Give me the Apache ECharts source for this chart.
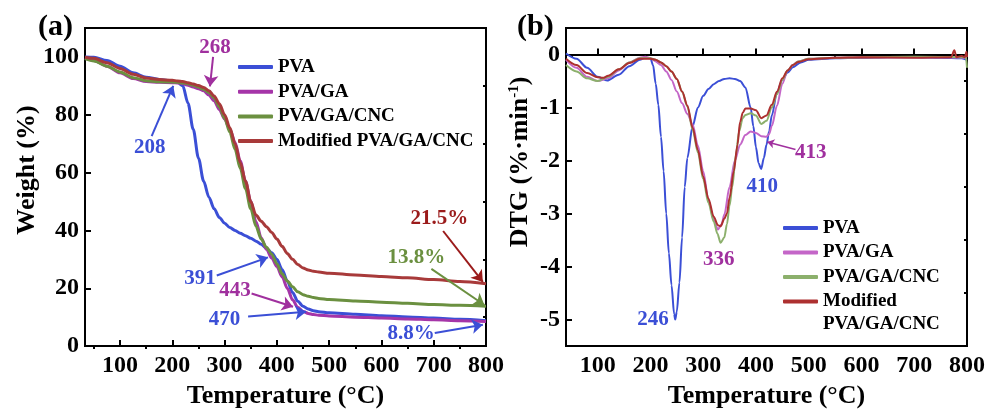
<!DOCTYPE html>
<html>
<head>
    <meta charset="utf-8">
    <title>TGA / DTG</title>
    <script src="https://cdn.jsdelivr.net/npm/echarts@6/dist/echarts.min.js"></script>
    <style>
        html, body { margin: 0; padding: 0; background: #fff; }
        #chart { width: 997px; height: 414px; }
    </style>
</head>
<body>
<div id="chart"></div>
<script type="text/javascript">
    // ---- data ----
    var names = ['PVA', 'PVA/GA', 'PVA/GA/CNC', 'Modified PVA/GA/CNC'];
    var colorsA = ['#3b4fd6', '#a535a8', '#6b9040', '#a83a3a'];
    var colorsB = ['#3b4fd6', '#c466c8', '#8cb06c', '#ad3030'];

    // (a) TGA: weight (%) vs temperature
    var tgaTemp = [33, 50, 75, 100, 125, 150, 175, 200, 210, 220, 230, 240, 250, 260, 270, 280, 290, 300,
        310, 320, 330, 340, 350, 360, 370, 380, 390, 400, 410, 420, 430, 440, 450, 460, 470, 480,
        500, 550, 600, 650, 700, 750, 800];
    var tgaPVA = [100, 99.9, 98.8, 96.8, 94.5, 93.0, 92.2, 91.6, 91.2, 90, 84, 75, 65, 57, 51.5, 47.5, 44.5, 42.5,
        41, 40, 39, 38.2, 37.3, 36.3, 35.2, 33.8, 32.3, 30, 26.5, 22.5, 18.5, 15.5, 13.8, 12.8, 12.2, 11.9,
        11.5, 11, 10.5, 10.1, 9.7, 9.3, 8.8];
    var tgaGA = [99.6, 98.8, 96.8, 94.5, 92.5, 91.5, 91.2, 91.1, 91, 90.7, 90.2, 89.6, 89, 88.3, 86.8, 84.8, 81.8, 78.5,
        75, 70.5, 64, 57, 50, 43, 37.5, 33.5, 30.5, 27.5, 24, 20, 16, 13.4, 12, 11.3, 10.9, 10.7,
        10.4, 10, 9.7, 9.4, 9.1, 8.8, 8.5];
    var tgaCNC = [99.4, 98.6, 96.8, 94.8, 92.8, 91.8, 91.4, 91.3, 91.2, 91, 90.7, 90.2, 89.6, 88.8, 87.7, 85.8, 82.8, 78.8,
        74, 68, 61.5, 54.5, 47.5, 41.5, 37, 34.2, 31.8, 28.5, 25, 22.5, 20.5, 18.8, 17.8, 17.2, 16.8, 16.5,
        16.1, 15.6, 15.2, 14.8, 14.4, 14.1, 13.8];
    var tgaMod = [99.9, 99.5, 98, 96, 94, 92.7, 92.2, 91.9, 91.7, 91.5, 91.1, 90.6, 90.1, 89.4, 88.3, 86.5, 83.8, 80,
        75.5, 70, 63.5, 57, 50, 45.3, 43.2, 41.3, 39.3, 37, 34.5, 32, 30, 28.2, 27, 26.3, 25.9, 25.6,
        25.2, 24.6, 24.1, 23.6, 23, 22.3, 21.6];

    // (b) DTG: [temperature, %/min]
    var dtgPVA = [[40, 0.02], [60, -0.08], [80, -0.25], [100, -0.42], [118, -0.49], [140, -0.38], [160, -0.22],
        [180, -0.1], [190, -0.06], [200, -0.07], [205, -0.2], [210, -0.55], [215, -0.95], [220, -1.55],
        [225, -2.2], [230, -3.0], [235, -3.75], [240, -4.35], [245, -4.9], [247, -5.0], [250, -4.85],
        [255, -4.3], [260, -3.45], [265, -2.5], [270, -1.95], [280, -1.35], [290, -1.0], [300, -0.78],
        [310, -0.65], [320, -0.56], [330, -0.5], [340, -0.46], [350, -0.45], [360, -0.46], [370, -0.5],
        [380, -0.62], [390, -1.0], [395, -1.35], [400, -1.75], [405, -2.05], [410, -2.16], [415, -1.95],
        [420, -1.7], [425, -1.45], [430, -1.15], [440, -0.71], [450, -0.48], [460, -0.34], [470, -0.24],
        [485, -0.15], [500, -0.1], [550, -0.07], [600, -0.06], [650, -0.05], [700, -0.05], [750, -0.06],
        [790, -0.07], [800, -0.1]];
    var dtgGA = [[40, -0.1], [60, -0.25], [80, -0.42], [100, -0.5], [120, -0.45], [140, -0.3], [160, -0.15],
        [180, -0.06], [190, -0.04], [200, -0.07], [210, -0.13], [220, -0.2], [230, -0.32], [240, -0.48],
        [250, -0.7], [260, -0.92], [270, -1.12], [280, -1.32], [290, -1.72], [300, -2.2], [310, -2.75],
        [320, -3.12], [328, -3.3], [335, -3.2], [340, -3.02], [350, -2.5], [360, -2.0], [370, -1.7],
        [380, -1.52], [390, -1.45], [400, -1.48], [410, -1.54], [420, -1.55], [425, -1.5], [430, -1.35],
        [440, -0.96], [450, -0.55], [460, -0.3], [470, -0.2], [480, -0.13], [500, -0.08], [550, -0.06],
        [600, -0.05], [700, -0.05], [800, -0.06]];
    var dtgCNC = [[40, -0.2], [60, -0.32], [80, -0.45], [100, -0.5], [120, -0.42], [140, -0.28], [160, -0.15],
        [180, -0.07], [200, -0.07], [210, -0.1], [220, -0.15], [230, -0.22], [240, -0.32], [250, -0.46],
        [260, -0.7], [270, -0.98], [280, -1.42], [290, -1.85], [300, -2.35], [310, -2.8], [320, -3.15],
        [327, -3.38], [333, -3.55], [340, -3.45], [345, -3.2], [350, -2.85], [355, -2.5], [362, -1.9],
        [368, -1.45], [375, -1.2], [380, -1.14], [390, -1.11], [400, -1.15], [410, -1.31], [420, -1.25],
        [430, -1.0], [440, -0.75], [450, -0.48], [460, -0.3], [470, -0.2], [480, -0.13], [500, -0.08],
        [550, -0.06], [600, -0.05], [700, -0.04], [798, -0.05], [800, -0.25]];
    var dtgMod = [[40, -0.08], [60, -0.2], [80, -0.35], [100, -0.43], [110, -0.44], [120, -0.4], [140, -0.28],
        [160, -0.16], [180, -0.08], [200, -0.08], [210, -0.1], [220, -0.15], [230, -0.22], [240, -0.32],
        [250, -0.46], [260, -0.7], [270, -0.96], [280, -1.38], [290, -1.8], [300, -2.3], [310, -2.72],
        [320, -3.06], [328, -3.22], [333, -3.24], [340, -3.1], [345, -3.0], [350, -2.7], [358, -2.2],
        [365, -1.7], [370, -1.27], [375, -1.1], [380, -1.02], [390, -1.02], [400, -1.05], [410, -1.2],
        [420, -1.15], [430, -0.95], [440, -0.7], [450, -0.45], [460, -0.3], [470, -0.2], [480, -0.14],
        [500, -0.09], [550, -0.06], [600, -0.05], [700, -0.06], [770, -0.05], [776, 0.08], [780, -0.05],
        [790, -0.03], [796, -0.05], [799, 0.05], [800, -0.05]];

    // ticks
    var tempTicks = [100, 200, 300, 400, 500, 600, 700, 800];
    var tempMinor = [50, 150, 250, 350, 450, 550, 650, 750];
    var weightTicks = [0, 20, 40, 60, 80, 100];
    var weightMinor = [10, 30, 50, 70, 90];
    var dtgTicks = [-5, -4, -3, -2, -1, 0];
    var dtgMinor = [-4.5, -3.5, -2.5, -1.5, -0.5];

    var FONT = "'Liberation Serif', 'Times New Roman', serif";

    function note(x, y, text, color) {
        return {
            coord: [x, y], symbol: 'circle', symbolSize: 0,
            label: { show: true, formatter: text, color: color, fontFamily: FONT, fontWeight: 'bold', fontSize: 21 }
        };
    }
    function arrow(x1, y1, x2, y2, color, w) {
        return [{ coord: [x1, y1], lineStyle: { color: color, width: w || 2, type: 'solid' } }, { coord: [x2, y2] }];
    }

    function xAxisMain(gi, min) {
        return {
            type: 'value', gridIndex: gi, min: min, max: 800,
            name: 'Temperature (°C)', nameLocation: 'middle', nameGap: 28,
            nameTextStyle: { fontFamily: FONT, fontWeight: 'bold', fontSize: 26, color: '#000' },
            axisLine: { show: true, lineStyle: { color: '#000', width: 2 } },
            axisTick: { show: true, inside: true, length: 6, customValues: tempTicks, lineStyle: { color: '#000', width: 2 } },
            axisLabel: { customValues: tempTicks, margin: 8, fontFamily: FONT, fontWeight: 'bold', fontSize: 24, color: '#000' },
            splitLine: { show: false }
        };
    }
    function xAxisMinor(gi, min) {
        return {
            type: 'value', gridIndex: gi, min: min, max: 800,
            axisLine: { show: false }, axisLabel: { show: false }, splitLine: { show: false },
            axisTick: { show: true, inside: true, length: 3, customValues: tempMinor, lineStyle: { color: '#000', width: 2 } }
        };
    }
    function yAxisMain(gi, min, max, ticks) {
        return {
            type: 'value', gridIndex: gi, min: min, max: max,
            axisLine: { show: true, lineStyle: { color: '#000', width: 2 } },
            axisTick: { show: true, inside: true, length: 6, customValues: ticks, lineStyle: { color: '#000', width: 2 } },
            axisLabel: { customValues: ticks, margin: 6, fontFamily: FONT, fontWeight: 'bold', fontSize: 24, color: '#000' },
            splitLine: { show: false }
        };
    }
    function yAxisMinor(gi, min, max, ticks) {
        return {
            type: 'value', gridIndex: gi, min: min, max: max,
            axisLine: { show: false }, axisLabel: { show: false }, splitLine: { show: false },
            axisTick: { show: true, inside: true, length: 3, customValues: ticks, lineStyle: { color: '#000', width: 2 } }
        };
    }

    function pair(vals) {
        return tgaTemp.map(function (t, i) { return [t, vals[i]]; });
    }

    var tgaSets = [tgaPVA, tgaGA, tgaCNC, tgaMod];
    var dtgSets = [dtgPVA, dtgGA, dtgCNC, dtgMod];

    var series = [];
    tgaSets.forEach(function (vals, i) {
        series.push({
            name: names[i], type: 'line', xAxisIndex: 0, yAxisIndex: 0,
            data: pair(vals), showSymbol: false, smooth: 0.3, smoothMonotone: 'x',
            color: colorsA[i], lineStyle: { color: colorsA[i], width: 3 }
        });
    });
    dtgSets.forEach(function (vals, i) {
        series.push({
            name: names[i], type: 'line', xAxisIndex: 2, yAxisIndex: 2,
            data: vals, showSymbol: false, smooth: 0.3, smoothMonotone: 'x',
            color: colorsB[i], lineStyle: { color: colorsB[i], width: 2 }
        });
    });

    // annotations for (a)
    series[0].markPoint = { silent: true, animation: false, data: [
        note(157, 68.6, '208', '#3b4fd6'),
        note(253, 23.3, '391', '#3b4fd6'),
        note(300, 9.1, '470', '#3b4fd6'),
        note(657, 4.5, '8.8%', '#3b4fd6')
    ] };
    series[0].markLine = { silent: true, animation: false, symbol: ['none', 'arrow'], symbolSize: 11, label: { show: false }, data: [
        arrow(160.5, 72.6, 201.8, 90, '#3b4fd6'),
        arrow(285, 24.4, 383, 30.7, '#3b4fd6'),
        arrow(345, 10.2, 456, 11.9, '#3b4fd6'),
        arrow(702, 4.5, 794, 7.4, '#3b4fd6')
    ] };
    series[1].markPoint = { silent: true, animation: false, data: [
        note(281.5, 103.4, '268', '#a0309e'),
        note(319.7, 19.3, '443', '#a0309e')
    ] };
    series[1].markLine = { silent: true, animation: false, symbol: ['none', 'arrow'], symbolSize: 11, label: { show: false }, data: [
        arrow(278, 100, 272, 89.8, '#a0309e'),
        arrow(351.6, 18.2, 431, 13.6, '#a0309e')
    ] };
    series[2].markPoint = { silent: true, animation: false, data: [note(667, 30.7, '13.8%', '#6b9040')] };
    series[2].markLine = { silent: true, animation: false, symbol: ['none', 'arrow'], symbolSize: 11, label: { show: false }, data: [
        arrow(695.5, 26.7, 797, 14.2, '#6b9040')
    ] };
    series[3].markPoint = { silent: true, animation: false, data: [note(711, 44, '21.5%', '#9b1b1b')] };
    series[3].markLine = { silent: true, animation: false, symbol: ['none', 'arrow'], symbolSize: 11, label: { show: false }, data: [
        arrow(718, 39.8, 794, 22.2, '#9b1b1b')
    ] };

    // annotations for (b)
    series[4].markPoint = { silent: true, animation: false, data: [
        note(205, -5, '246', '#3b4fd6'),
        note(412, -2.49, '410', '#3b4fd6')
    ] };
    series[5].markPoint = { silent: true, animation: false, data: [
        note(329.7, -3.86, '336', '#a0309e'),
        note(503.8, -1.85, '413', '#a0309e')
    ] };
    series[5].markLine = { silent: true, animation: false, symbol: ['none', 'arrow'], symbolSize: 7, label: { show: false }, data: [
        arrow(475, -1.79, 421.5, -1.65, '#a0309e', 1.5)
    ] };

    var legendText = { fontFamily: FONT, fontWeight: 'bold', fontSize: 19, color: '#000', lineHeight: 20 };

    var option = {
        animation: false,
        backgroundColor: '#fff',
        grid: [
            { left: 85, right: 511, top: 28, bottom: 63, show: true, borderColor: '#000', borderWidth: 2 },
            { left: 566, right: 30, top: 28, bottom: 63, show: true, borderColor: '#000', borderWidth: 2 }
        ],
        xAxis: [xAxisMain(0, 33), xAxisMinor(0, 33), xAxisMain(1, 40), xAxisMinor(1, 40)],
        yAxis: [
            yAxisMain(0, 0, 110, weightTicks), yAxisMinor(0, 0, 110, weightMinor),
            yAxisMain(1, -5.5, 0.5, dtgTicks), yAxisMinor(1, -5.5, 0.5, dtgMinor)
        ],
        legend: [
            {
                orient: 'vertical', left: 238, top: 57, padding: 0, itemWidth: 35, itemHeight: 4, itemGap: 4.7,
                icon: 'roundRect', selectedMode: false, textStyle: legendText,
                data: names.map(function (n, i) { return { name: n, itemStyle: { color: colorsA[i] } }; })
            },
            {
                orient: 'vertical', left: 783, top: 218, padding: 0, itemWidth: 35, itemHeight: 4, itemGap: 4.5,
                icon: 'roundRect', selectedMode: false, textStyle: legendText,
                formatter: function (n) { return n === 'Modified PVA/GA/CNC' ? 'Modified' : n; },
                data: names.map(function (n, i) { return { name: n, itemStyle: { color: colorsB[i] } }; })
            }
        ],
        graphic: [
            { type: 'text', left: 38, top: 12, style: { text: '(a)', fontFamily: FONT, fontWeight: 'bold', fontSize: 30, fill: '#000' } },
            { type: 'text', left: 517, top: 12, style: { text: '(b)', fontFamily: FONT, fontWeight: 'bold', fontSize: 30, fill: '#000' } },
            { type: 'text', x: 27, y: 170, rotation: Math.PI / 2,
              style: { text: 'Weight (%)', align: 'center', verticalAlign: 'middle', fontFamily: FONT, fontWeight: 'bold', fontSize: 26, fill: '#000' } },
            { type: 'text', x: 520, y: 162, rotation: Math.PI / 2,
              style: { text: 'DTG (%·min{sup|-1})', align: 'center', verticalAlign: 'middle', fontFamily: FONT, fontWeight: 'bold', fontSize: 26, fill: '#000',
                  rich: { sup: { fontFamily: FONT, fontWeight: 'bold', fontSize: 15, verticalAlign: 'top', fill: '#000' } } } },
            { type: 'text', left: 823, top: 315,
              style: { text: 'PVA/GA/CNC', fontFamily: FONT, fontWeight: 'bold', fontSize: 19, fill: '#000' } }
        ],
        series: series
    };

    var myChart = echarts.init(document.getElementById('chart'));
    myChart.setOption(option);
</script>
</body>
</html>
